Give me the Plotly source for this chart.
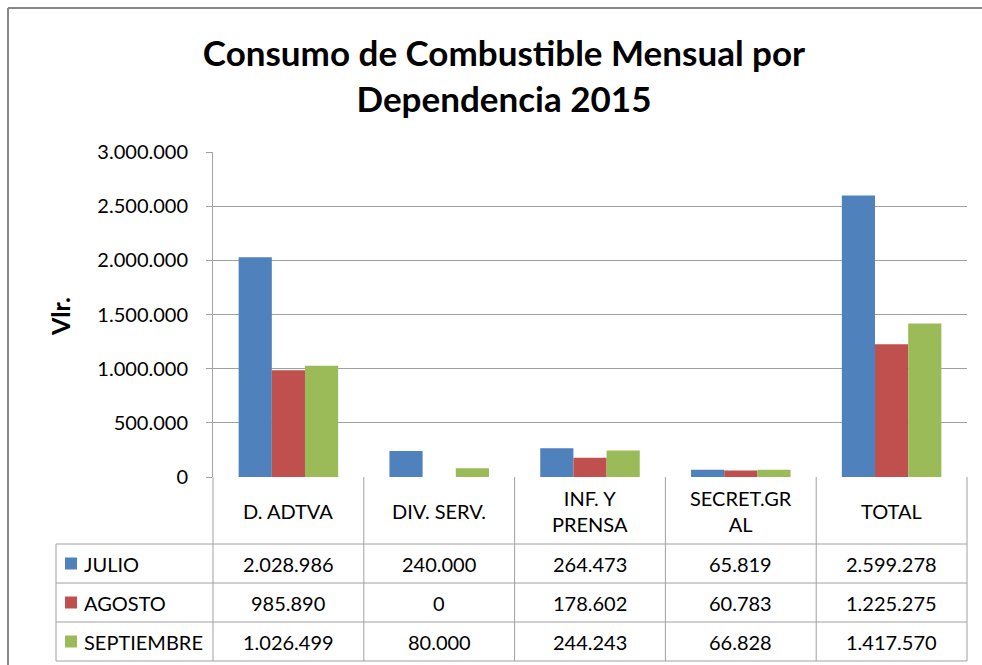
import plotly.graph_objects as go

# datos
categorias = ["D. ADTVA", "DIV. SERV.", "INF. Y<br>PRENSA", "SECRET.GR<br>AL", "TOTAL"]
meses = ["JULIO", "AGOSTO", "SEPTIEMBRE"]
julio = [2028986, 240000, 264473, 65819, 2599278]
agosto = [985890, 0, 178602, 60783, 1225275]
septiembre = [1026499, 80000, 244243, 66828, 1417570]
series = [julio, agosto, septiembre]
colores = ["#4F81BD", "#C0504D", "#9BBB59"]

# geometria (pixeles)
W, H = 982, 665
L, R, T, B = 213, 967, 152, 477
filas = [544, 583, 622, 661]
col_izq = 56
fuente = "Lato"
gris = "#A0A0A0"
tam = 20


def px_x(x):
    return (x - L) / (R - L)


def px_y(y):
    return (B - y) / (B - T)


def fmt(v):
    return f"{v:,}".replace(",", ".")


fig = go.Figure()
for nombre, vals, c in zip(meses, series, colores):
    fig.add_trace(go.Bar(x=list(range(len(categorias))), y=vals, name=nombre,
                         marker=dict(color=c, line=dict(width=0))))

shapes = []
ann = []

# lineas de la tabla
ancho = (R - L) / len(categorias)
for i in range(len(categorias) + 1):
    xx = L + i * ancho
    shapes.append(dict(type="line", xref="paper", yref="paper", x0=px_x(xx), x1=px_x(xx),
                       y0=px_y(B), y1=px_y(filas[-1]), line=dict(color=gris, width=1)))
shapes.append(dict(type="line", xref="paper", yref="paper", x0=px_x(col_izq), x1=px_x(col_izq),
                   y0=px_y(filas[0]), y1=px_y(filas[-1]), line=dict(color=gris, width=1)))
for yy in filas:
    shapes.append(dict(type="line", xref="paper", yref="paper", x0=px_x(col_izq), x1=px_x(R),
                       y0=px_y(yy), y1=px_y(yy), line=dict(color=gris, width=1)))

# encabezados de categoria
for i, cat in enumerate(categorias):
    ann.append(dict(x=px_x(L + (i + 0.5) * ancho), y=px_y((B + filas[0]) / 2), xref="paper", yref="paper",
                    text=cat, showarrow=False, xanchor="center", yanchor="middle",
                    font=dict(family=fuente, size=tam, color="black")))

# filas de valores
for k, (nombre, vals, c) in enumerate(zip(meses, series, colores)):
    yc = (filas[k] + filas[k + 1]) / 2
    shapes.append(dict(type="rect", xref="paper", yref="paper", x0=px_x(65), x1=px_x(77),
                       y0=px_y(yc - 6), y1=px_y(yc + 6), fillcolor=c, line=dict(width=0)))
    ann.append(dict(x=px_x(82), y=px_y(yc), xref="paper", yref="paper", text=nombre, showarrow=False,
                    xanchor="left", yanchor="middle", font=dict(family=fuente, size=tam, color="black")))
    for i, v in enumerate(vals):
        ann.append(dict(x=px_x(L + (i + 0.5) * ancho), y=px_y(yc), xref="paper", yref="paper",
                        text=fmt(v), showarrow=False, xanchor="center", yanchor="middle",
                        font=dict(family=fuente, size=tam, color="black")))

# borde del grafico
shapes.append(dict(type="line", xref="paper", yref="paper", x0=px_x(8), x1=px_x(W),
                   y0=px_y(8), y1=px_y(8), line=dict(color="#878787", width=2)))
shapes.append(dict(type="line", xref="paper", yref="paper", x0=px_x(8), x1=px_x(8),
                   y0=px_y(8), y1=px_y(H), line=dict(color="#878787", width=2)))

# titulo eje y
ann.append(dict(x=px_x(60), y=px_y(317), xref="paper", yref="paper", text="<b>Vlr.</b>", showarrow=False,
                textangle=-90, xanchor="center", yanchor="middle",
                font=dict(family=fuente, size=25, color="black")))

fig.update_layout(
    width=W, height=H,
    margin=dict(l=L, r=W - R, t=T, b=H - B),
    paper_bgcolor="white", plot_bgcolor="white",
    separators=",.",
    showlegend=False,
    barmode="group", bargap=0.34, bargroupgap=0,
    title=dict(text="<b>Consumo de Combustible Mensual por<br>Dependencia 2015</b>",
               x=504 / W, xanchor="center", y=1 - 66 / H, yanchor="middle",
               font=dict(family=fuente, size=35, color="black")),
    shapes=shapes,
    annotations=ann,
    font=dict(family=fuente, size=tam, color="black"),
)
fig.update_xaxes(range=[-0.5, len(categorias) - 0.5], showticklabels=False, showgrid=False,
                 showline=False, zeroline=False, fixedrange=True)
fig.update_yaxes(range=[0, 3000000], dtick=500000, tickformat=",", showgrid=True, gridcolor=gris,
                 gridwidth=1, showline=True, linecolor=gris, linewidth=1, ticks="outside",
                 ticklen=6, tickcolor=gris, ticklabelstandoff=14, zeroline=False,
                 tickfont=dict(family=fuente, size=tam, color="black"))

fig.write_html("out.html", config={"displayModeBar": False},
               post_script="document.body.style.margin='0';")
